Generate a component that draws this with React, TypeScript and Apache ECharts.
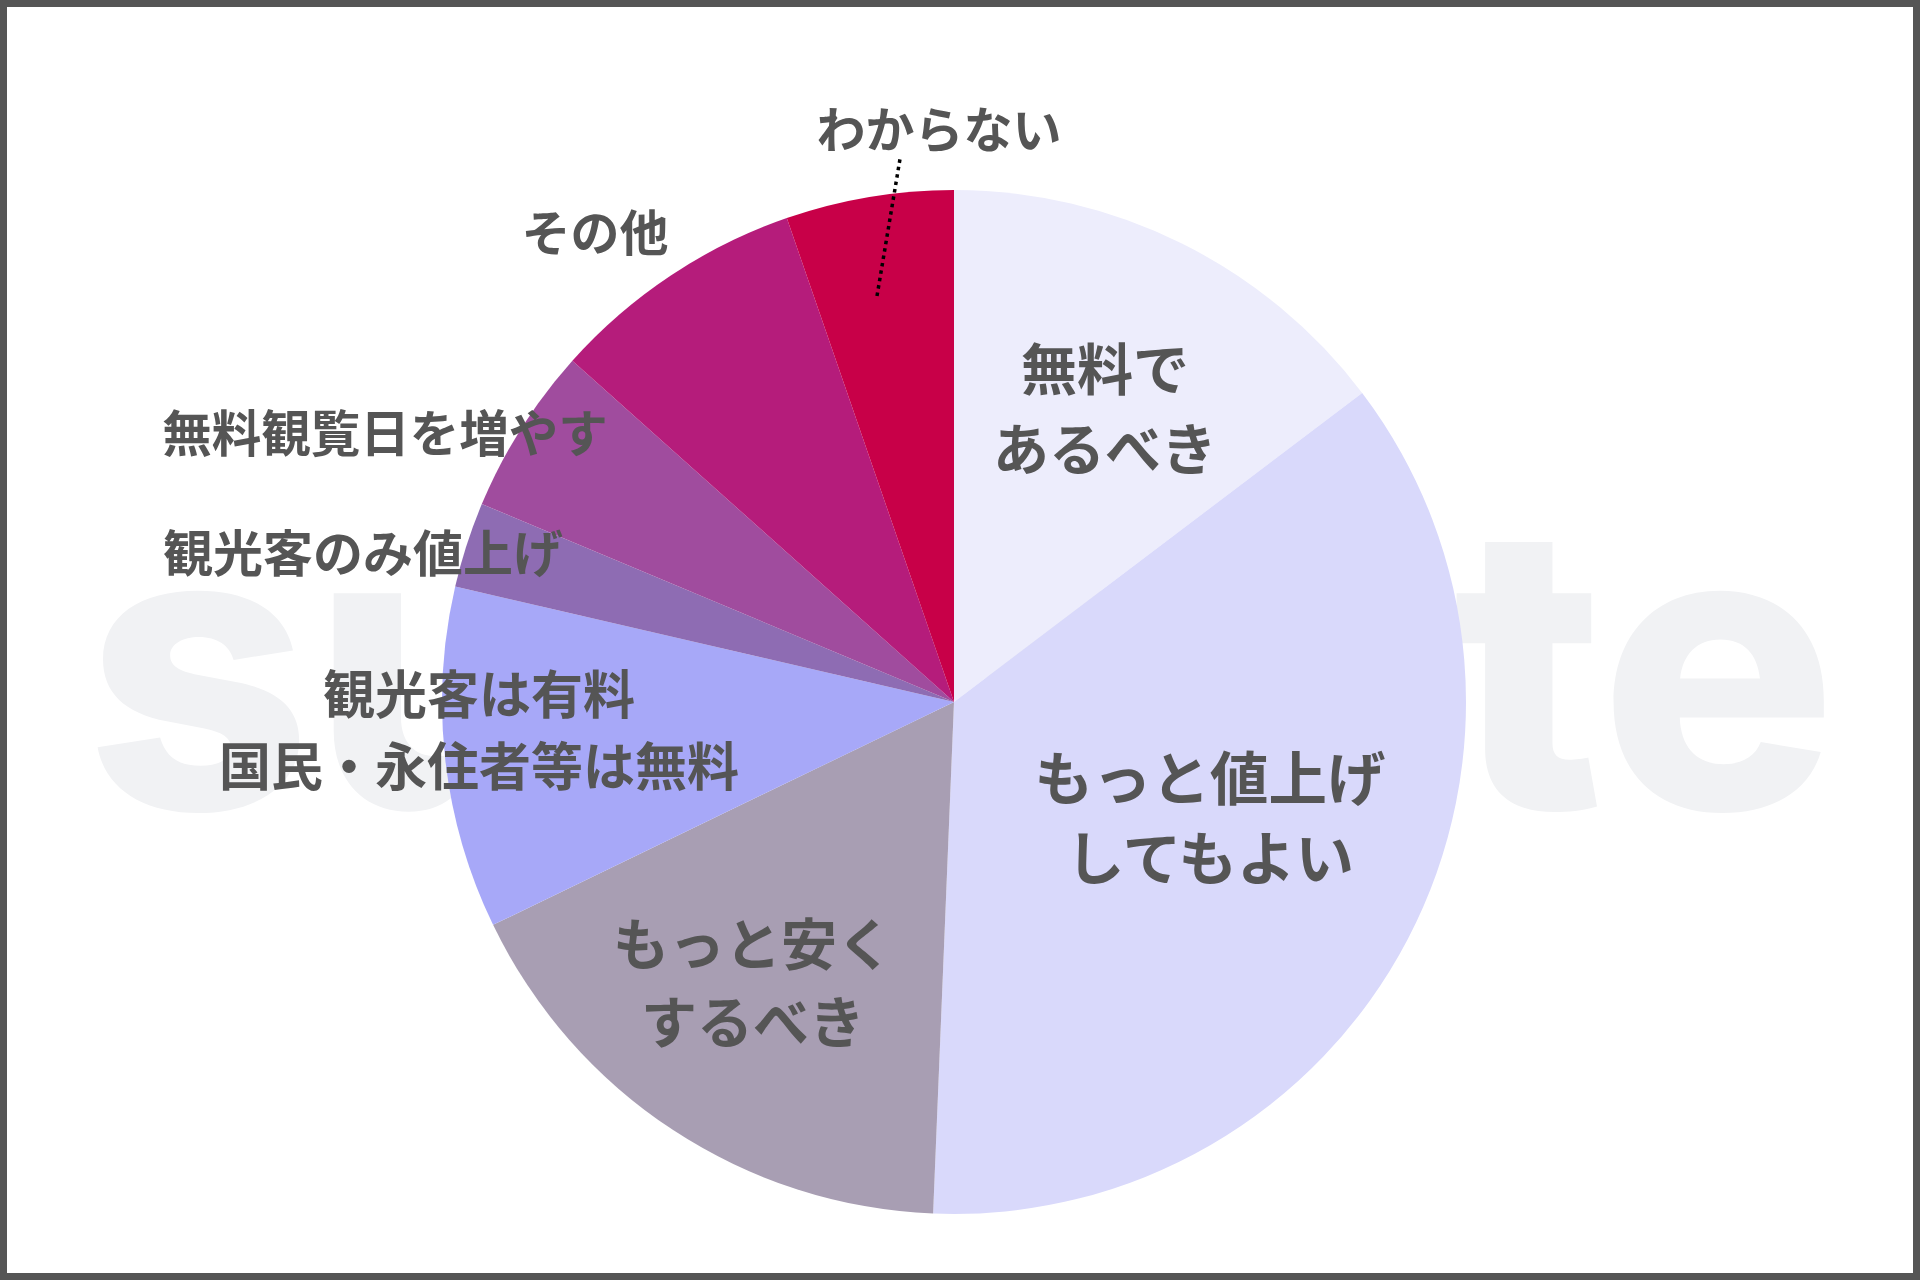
import React, { useEffect, useRef } from "react";
import * as echarts from "echarts";

// Answer categories (clockwise from 12 o'clock)
const categories = [
  "無料であるべき",
  "もっと値上げしてもよい",
  "もっと安くするべき",
  "観光客は有料 国民・永住者等は無料",
  "観光客のみ値上げ",
  "無料観覧日を増やす",
  "その他",
  "わからない",
];
// Label texts as shown on the chart
const labelTexts = [
  "無料で\nあるべき",
  "もっと値上げ\nしてもよい",
  "もっと安く\nするべき",
  "観光客は有料\n国民・永住者等は無料",
  "観光客のみ値上げ",
  "無料観覧日を増やす",
  "その他",
  "わからない",
];
// Shares (%)
const values = [14.7, 36.0, 17.2, 10.8, 2.7, 5.3, 8.1, 5.3];
const colors = [
  "#EDEDFC",
  "#D9D9FB",
  "#A89EB3",
  "#A7A8F8",
  "#8E6CB3",
  "#A04C9E",
  "#B51C7B",
  "#C80048",
];
const watermark = "surveyte";

// layout-only: label anchor positions and sizes
const LABEL_POS: [number, number][] = [
  [1105, 405],
  [1210, 814],
  [753, 979],
  [479, 727],
  [363, 550],
  [385, 430],
  [595, 229],
  [939, 126],
];
const LABEL_SIZE = [56, 58.5, 56, 52, 50, 49.5, 49, 49];
const LABEL_LH = [80, 80, 78, 72, 72, 72, 72, 72];

export default function App() {
  const ref = useRef<HTMLDivElement>(null);
  useEffect(() => {
    if (!ref.current) return;
    const chart = echarts.init(ref.current, undefined, { renderer: "svg" });
    const data = values.map((v, i) => ({
      value: v,
      name: categories[i],
      itemStyle: { color: colors[i] },
      label: {
        formatter: () => labelTexts[i],
        fontSize: LABEL_SIZE[i],
        lineHeight: LABEL_LH[i],
      },
    }));
    chart.setOption({
      animation: false,
      backgroundColor: "#ffffff",
      graphic: [
        {
          type: "text",
          z: -10,
          x: 961,
          y: 665,
          style: {
            text: watermark,
            fontSize: 395,
            fontFamily: "Inter",
            fontWeight: 800,
            fill: "#F1F2F4",
            align: "center",
            verticalAlign: "middle",
          },
        },
        {
          type: "polyline",
          z: 50,
          shape: {
            points: [
              [877, 296],
              [900, 159],
            ],
          },
          style: {
            stroke: "#000000",
            lineWidth: 3.5,
            lineDash: [3.5, 4],
            fill: "none",
          },
        },
        {
          type: "rect",
          z: 100,
          shape: { x: 3.5, y: 3.5, width: 1913, height: 1273 },
          style: { fill: "none", stroke: "#555555", lineWidth: 7 },
        },
      ],
      series: [
        {
          type: "pie",
          z: 2,
          center: [954, 702],
          radius: 512,
          startAngle: 90,
          clockwise: true,
          avoidLabelOverlap: false,
          label: {
            show: true,
            position: "outside",
            color: "#555555",
            fontFamily: "Noto Sans CJK JP",
            fontWeight: "bold",
            align: "center",
          },
          labelLine: { show: false },
          labelLayout: (params: any) => {
            const p = LABEL_POS[params.dataIndex];
            return {
              x: p[0],
              y: p[1],
              align: "center",
              verticalAlign: "middle",
            };
          },
          data,
        },
      ],
    });
    return () => chart.dispose();
  }, []);
  return (
    <div
      ref={ref}
      style={{ position: "absolute", left: 0, top: 0, width: 1920, height: 1280 }}
    />
  );
}
